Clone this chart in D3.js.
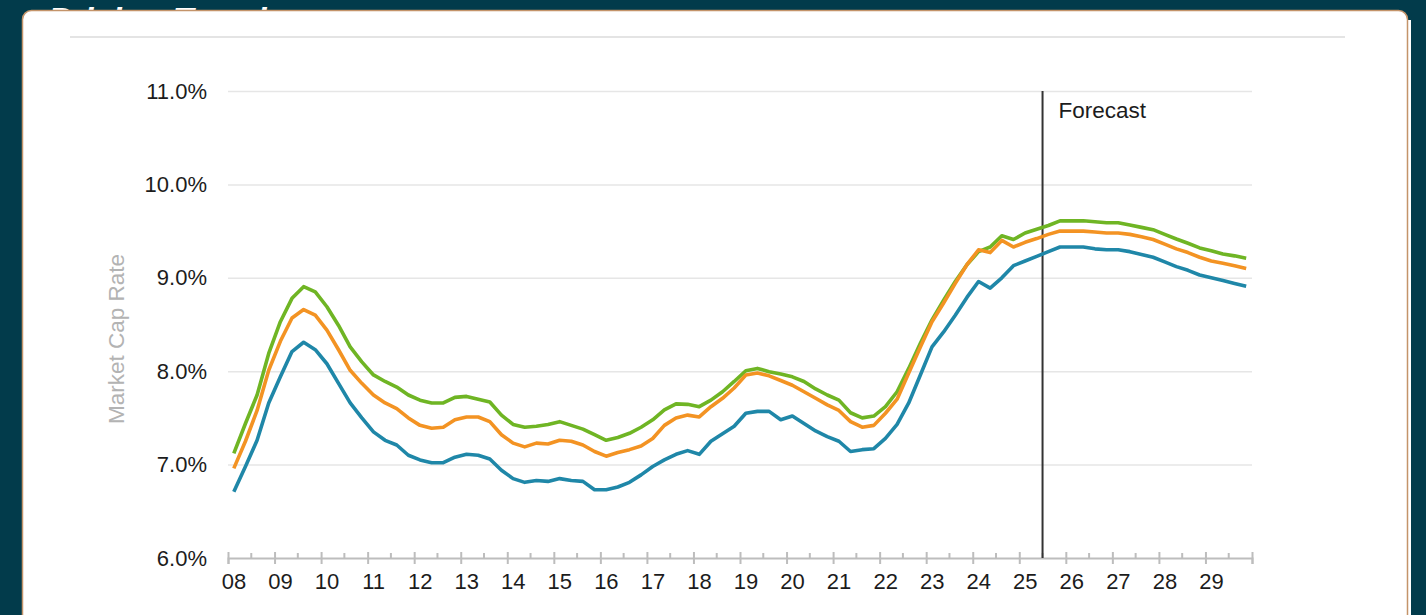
<!DOCTYPE html>
<html lang="en">
<head>
<meta charset="UTF-8">
<script src="https://d3js.org/d3.v7.min.js"></script>
<title>Market Cap Rate</title>
<style>
  body { margin: 0; background: #023b4b; }
  svg { display: block; font-family: "Liberation Sans", Arial, sans-serif; }
  .grid line { stroke: #e6e6e6; stroke-width: 1.5px; }
  .grid .domain { display: none; }
  .yaxis text { font-size: 22px; fill: #1c1c1c; }
  .xaxis text { font-size: 22px; fill: #1c1c1c; }
  .xaxis line, .xaxis .domain { stroke: #bdbdbd; stroke-width: 2px; }
</style>
</head>
<body>
<svg id="chart" width="1426" height="615"></svg>
<script>
// data (quarterly, 2008Q1 .. 2029Q4)
var years = d3.range(2008, 2030);
var yearLabels = ["08","09","10","11","12","13","14","15","16","17","18","19","20","21","22","23","24","25","26","27","28","29"];
var yTicks = [6, 7, 8, 9, 10, 11];
var forecastStart = 2025.5;

var greenSeries = [
  7.12, 7.44, 7.745, 8.19, 8.53, 8.78, 8.905, 8.85, 8.69, 8.49, 8.26, 8.10, 7.96, 7.89, 7.83, 7.745,
  7.69, 7.66, 7.66, 7.72, 7.73, 7.70, 7.67, 7.53, 7.43, 7.40, 7.41, 7.43, 7.46, 7.42, 7.38, 7.32,
  7.26, 7.29, 7.335, 7.40, 7.48, 7.585, 7.65, 7.645, 7.62, 7.69, 7.78, 7.89, 8.005, 8.03, 7.995, 7.97,
  7.94, 7.89, 7.81, 7.745, 7.69, 7.555, 7.50, 7.52, 7.62, 7.78, 8.03, 8.30, 8.55, 8.76, 8.96, 9.14,
  9.28, 9.33, 9.45, 9.41, 9.48, 9.52, 9.56, 9.61, 9.61, 9.61, 9.60, 9.59, 9.59, 9.565, 9.54, 9.515,
  9.465, 9.415, 9.37, 9.32, 9.29, 9.255, 9.235, 9.21
];
var orangeSeries = [
  6.96, 7.25, 7.58, 8.01, 8.32, 8.57, 8.66, 8.60, 8.44, 8.23, 8.01, 7.87, 7.745, 7.66, 7.60, 7.50,
  7.42, 7.39, 7.40, 7.48, 7.51, 7.51, 7.46, 7.32, 7.23, 7.19, 7.23, 7.22, 7.26, 7.25, 7.21, 7.14,
  7.09, 7.13, 7.16, 7.20, 7.28, 7.42, 7.50, 7.53, 7.51, 7.62, 7.71, 7.82, 7.96, 7.98, 7.95, 7.90,
  7.85, 7.78, 7.71, 7.64, 7.58, 7.46, 7.40, 7.42, 7.55, 7.70, 7.98, 8.26, 8.53, 8.73, 8.94, 9.14,
  9.30, 9.27, 9.40, 9.33, 9.38, 9.42, 9.465, 9.50, 9.50, 9.50, 9.49, 9.48, 9.48, 9.465, 9.44, 9.41,
  9.36, 9.31, 9.27, 9.22, 9.18, 9.155, 9.13, 9.10
];
var blueSeries = [
  6.71, 6.98, 7.26, 7.66, 7.94, 8.21, 8.31, 8.23, 8.08, 7.87, 7.66, 7.50, 7.35, 7.26, 7.21, 7.10,
  7.05, 7.02, 7.02, 7.08, 7.11, 7.10, 7.06, 6.94, 6.85, 6.81, 6.83, 6.82, 6.85, 6.83, 6.82, 6.73,
  6.73, 6.76, 6.81, 6.89, 6.98, 7.05, 7.11, 7.15, 7.11, 7.25, 7.33, 7.41, 7.55, 7.57, 7.57, 7.48,
  7.52, 7.44, 7.36, 7.30, 7.25, 7.14, 7.16, 7.17, 7.28, 7.43, 7.66, 7.96, 8.26, 8.42, 8.60, 8.79,
  8.96, 8.89, 9.00, 9.13, 9.18, 9.23, 9.28, 9.33, 9.33, 9.33, 9.31, 9.30, 9.30, 9.28, 9.25, 9.22,
  9.17, 9.12, 9.08, 9.03, 9.00, 8.97, 8.94, 8.91
];

// quarter midpoints as decimal years
var quarters = [];
years.forEach(function(y){
  for (var q = 0; q < 4; q++) quarters.push(y + (q + 0.5) / 4);
});

var svg = d3.select("#chart");

// title, mostly cut off at the top
svg.append("text")
  .attr("x", 48).attr("y", 31)
  .attr("fill", "#fff")
  .attr("font-size", "34px")
  .attr("font-weight", "bold")
  .attr("font-style", "italic")
  .text("Pricing Trends");

// white card
svg.append("rect")
  .attr("x", 1398).attr("y", 20).attr("width", 13).attr("height", 600)
  .attr("fill", "#fff");
svg.append("rect")
  .attr("x", 22.5).attr("y", 10.5).attr("width", 1385).attr("height", 650)
  .attr("rx", 9)
  .attr("fill", "#fff")
  .attr("stroke", "#c4946a")
  .attr("stroke-width", 1.5);

svg.append("line")
  .attr("x1", 70).attr("x2", 1345).attr("y1", 37).attr("y2", 37)
  .attr("stroke", "#e4e4e4").attr("stroke-width", 2);

var x = d3.scaleLinear().domain([2008, 2030]).range([228, 1252]);
var y = d3.scaleLinear().domain([6, 11]).range([558, 91]);

// gridlines
svg.append("g")
  .attr("class", "grid")
  .attr("transform", "translate(228,0)")
  .call(d3.axisLeft(y).tickValues(yTicks.slice(1)).tickSize(-1024).tickFormat(""));

// y labels
svg.append("g")
  .attr("class", "yaxis")
  .attr("transform", "translate(207,0)")
  .call(d3.axisLeft(y).tickValues(yTicks).tickSize(0).tickPadding(0)
    .tickFormat(function(d){ return d.toFixed(1) + "%"; }))
  .call(function(g){ g.select(".domain").remove(); });

svg.append("text")
  .attr("transform", "translate(124,339) rotate(-90)")
  .attr("text-anchor", "middle")
  .attr("font-size", "22.5px")
  .attr("fill", "#b3b3b3")
  .text("Market Cap Rate");

// x axis
var xAxis = svg.append("g")
  .attr("class", "xaxis")
  .attr("transform", "translate(0,558)")
  .call(d3.axisBottom(x).tickValues(years.concat([2030])).tickSizeOuter(0).tickSize(6).tickPadding(9)
    .tickFormat(function(d, i){ return yearLabels[i] || ""; }));
xAxis.selectAll(".tick line").attr("y1", -6);
xAxis.selectAll(".tick text").attr("dx", 5.5);

xAxis.selectAll(".minor")
  .data(years.map(function(d){ return d + 0.5; }))
  .enter().append("line")
  .attr("class", "minor")
  .attr("x1", function(d){ return x(d); })
  .attr("x2", function(d){ return x(d); })
  .attr("y1", -5).attr("y2", 0);

// forecast marker
svg.append("line")
  .attr("x1", x(forecastStart)).attr("x2", x(forecastStart))
  .attr("y1", y(11)).attr("y2", y(6))
  .attr("stroke", "#333").attr("stroke-width", 2);
svg.append("text")
  .attr("x", x(forecastStart) + 16).attr("y", 118)
  .attr("font-size", "22.5px")
  .attr("fill", "#1c1c1c")
  .text("Forecast");

// lines
var line = d3.line()
  .x(function(d, i){ return x(quarters[i]); })
  .y(function(d){ return y(d); });

[[greenSeries, "#6fb524"], [orangeSeries, "#f39323"], [blueSeries, "#1f87a8"]].forEach(function(s){
  svg.append("path")
    .datum(s[0])
    .attr("fill", "none")
    .attr("stroke", s[1])
    .attr("stroke-width", 3.6)
    .attr("stroke-linejoin", "round")
    .attr("d", line);
});
</script>
</body>
</html>
